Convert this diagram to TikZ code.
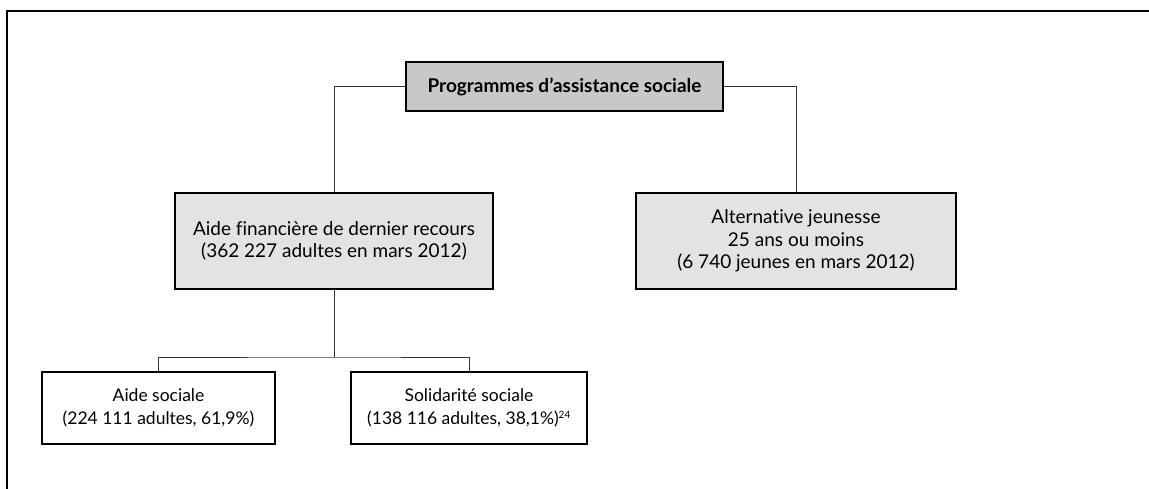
\documentclass[tikz,border=0pt]{standalone}
\usepackage{fontspec}
\setmainfont{Lato}[Ligatures={NoCommon,NoRare}]
\definecolor{topfill}{HTML}{C8C8C8}
\definecolor{midfill}{HTML}{E3E3E3}
\definecolor{linkgray}{HTML}{333333}
\begin{document}
\begin{tikzpicture}[x=1pt,y=-1pt,
  box/.style={draw=black,line width=2.6pt,rectangle,align=center,inner sep=0pt},
  topbox/.style={box,fill=topfill,font=\fontsize{19}{23}\selectfont\bfseries},
  midbox/.style={box,fill=midfill,font=\fontsize{19}{22.5}\selectfont},
  lowbox/.style={box,fill=white,font=\fontsize{17.5}{23}\selectfont},
  link/.style={draw=linkgray,line width=1pt},
  frame/.style={draw=black,line width=2.4pt}]
\useasboundingbox (0,0) rectangle (1149,489);
\draw[frame] (1149,11) -- (7,11) -- (7,489);
\node[topbox,minimum width=317pt,minimum height=49pt] (top) at (564.5,86.5) {Programmes d’assistance sociale};
\node[midbox,minimum width=318pt,minimum height=96pt] (afdr) at (334,241) {Aide financière de dernier recours\\(362 227 adultes en mars 2012)};
\node[midbox,minimum width=320pt,minimum height=96pt] (aj) at (796,241) {Alternative jeunesse\\25 ans ou moins\\(6 740 jeunes en mars 2012)};
\node[lowbox,minimum width=233pt,minimum height=72pt] (as) at (158.5,408) {Aide sociale\\(224 111 adultes, 61,9\%)};
\node[lowbox,minimum width=236pt,minimum height=72pt] (ss) at (469,408) {Solidarité sociale\\(138 116 adultes, 38,1\%)\textsuperscript{\fontsize{10}{10}\selectfont 24}};
\coordinate (fork) at (334,357);
\draw[link] (top.west) -| (afdr.north);
\draw[link] (top.east) -| (aj.north);
\draw[link] (afdr.south) -- (fork);
\draw[link] (as.north) |- (fork) -| (ss.north);
\end{tikzpicture}
\end{document}
